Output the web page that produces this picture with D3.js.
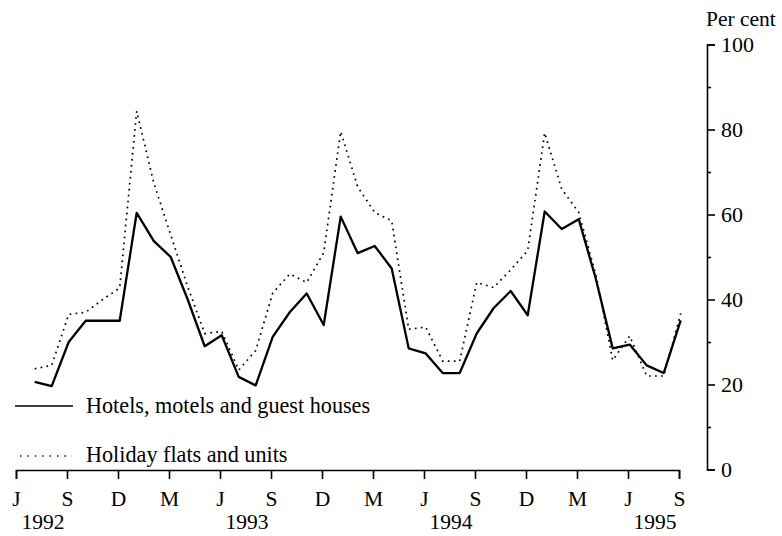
<!DOCTYPE html>
<html>
<head>
<meta charset="utf-8">
<script src="https://cdn.jsdelivr.net/npm/d3@7"></script>
<style>
  body { margin: 0; background: #fff; }
  svg { display: block; }
  text { font-family: "Liberation Serif", "Times New Roman", serif; fill: #000; }
</style>
</head>
<body>
<script>
// monthly occupancy, Jul 1992 .. Sep 1995 (month index 1 = Jul 1992, index 0 = Jun 1992)
const hotels = [20.6, 19.6, 30, 35, 35, 35, 60.4, 53.8, 50, 40, 29, 31.6, 21.8, 19.8,
  31.2, 37, 41.4, 34, 59.5, 50.9, 52.6, 47.3, 28.5, 27.3, 22.7, 22.7, 32, 38, 42, 36.3,
  60.7, 56.6, 58.9, 45, 28.5, 29.4, 24.5, 22.7, 35.1];
const flats = [23.7, 24.5, 36.5, 37, 40, 42.7, 84.3, 67.5, 55.2, 43, 32, 32.5, 23.4, 28,
  41.5, 46, 44, 51, 79.5, 66.5, 60.5, 58.5, 33, 33.5, 25.5, 25.5, 44, 42.8, 47, 51.5,
  79.2, 66, 60.5, 46, 25.7, 31.4, 22, 22, 36.7];
const monthTicks = ['J', 'S', 'D', 'M', 'J', 'S', 'D', 'M', 'J', 'S', 'D', 'M', 'J', 'S'];
const yearLabels = ['1992', '1993', '1994', '1995'];
const seriesNames = ['Hotels, motels and guest houses', 'Holiday flats and units'];

const width = 782;
const height = 536;

const svg = d3.select('body')
  .append('svg')
  .attr('width', width)
  .attr('height', height);

const x = d3.scaleLinear().domain([0, 39]).range([16, 679]);
const y = d3.scaleLinear().domain([0, 100]).range([469.5, 44.5]);

// x axis: a tick every quarter
const xAxis = d3.axisBottom(x)
  .tickValues(d3.range(0, 40, 3))
  .tickFormat(function(d, i) { return monthTicks[i]; })
  .tickSize(9)
  .tickSizeOuter(9)
  .tickPadding(12);

const gx = svg.append('g')
  .attr('transform', 'translate(0,' + 470 + ')')
  .call(xAxis);
gx.selectAll('text').attr('font-size', 21.5).attr('dy', '0.71em');
gx.selectAll('path, line').attr('stroke', '#000').attr('stroke-width', 1.6);

svg.append('g')
  .selectAll('text')
  .data(yearLabels)
  .enter()
  .append('text')
  .attr('x', function(d, i) { return x(i * 12) + 27; })
  .attr('y', 529)
  .attr('text-anchor', 'middle')
  .attr('font-size', 21.5)
  .text(function(d) { return d; });

// y axis on the right, minor ticks every 10
const gyMinor = svg.append('g')
  .attr('transform', 'translate(707,0)')
  .call(d3.axisRight(y).tickValues(d3.range(10, 100, 20)).tickSize(4).tickSizeOuter(0).tickFormat(''));
gyMinor.select('.domain').remove();

const gy = svg.append('g')
  .attr('transform', 'translate(707,0)')
  .call(d3.axisRight(y).tickValues(d3.range(0, 101, 20)).tickSize(8).tickSizeOuter(8).tickPadding(6));
gy.selectAll('text').attr('font-size', 22);
svg.selectAll('.tick line').attr('stroke', '#000').attr('stroke-width', 1.6);
gy.select('.domain').attr('stroke', '#000').attr('stroke-width', 1.6);

svg.append('text')
  .attr('x', 706)
  .attr('y', 26)
  .attr('font-size', 21.5)
  .text('Per cent');

const line = d3.line()
  .x(function(d, i) { return x(i + 1.1); })
  .y(function(d) { return y(d); });

svg.append('path')
  .datum(flats)
  .attr('d', line)
  .attr('fill', 'none')
  .attr('stroke', '#000')
  .attr('stroke-width', 1.7)
  .attr('stroke-dasharray', '1.7,4.3');

svg.append('path')
  .datum(hotels)
  .attr('d', line)
  .attr('fill', 'none')
  .attr('stroke', '#000')
  .attr('stroke-width', 2.3)
  .attr('stroke-linejoin', 'round');

// legend
const legend = svg.append('g');
legend.append('line')
  .attr('x1', 15).attr('x2', 73).attr('y1', 406).attr('y2', 406)
  .attr('stroke', '#000').attr('stroke-width', 1.4);
legend.append('line')
  .attr('x1', 20).attr('x2', 72).attr('y1', 456).attr('y2', 456)
  .attr('stroke', '#000').attr('stroke-width', 1.4)
  .attr('stroke-dasharray', '1.4,6');
legend.selectAll('text')
  .data(seriesNames)
  .enter()
  .append('text')
  .attr('x', 86)
  .attr('y', function(d, i) { return 413 + i * 49; })
  .attr('font-size', 22.2)
  .text(function(d) { return d; });
</script>
</body>
</html>
